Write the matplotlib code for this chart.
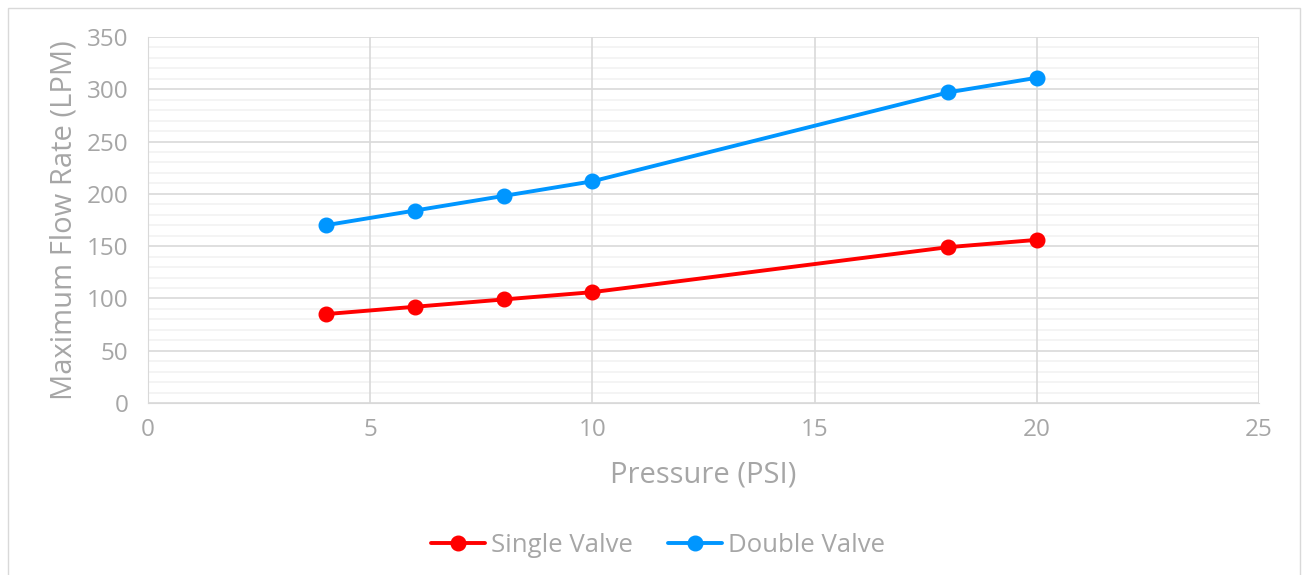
import numpy as np
import matplotlib.pyplot as plt
from matplotlib.patches import Rectangle

plt.rcParams['font.family'] = ['Open Sans', 'DejaVu Sans']

pressure = [4, 6, 8, 10, 18, 20]
single_valve = [85, 92, 99, 106, 149, 156]
double_valve = [170, 184, 198, 212, 297, 311]

txt = "#a6a6a6"

fig = plt.figure(figsize=(13.04, 5.75), dpi=100)
fig.patches.append(Rectangle((8/1304, -0.05), 1292/1304, 1.05 - 8/575, transform=fig.transFigure,
                             fill=False, edgecolor="#d9d9d9", linewidth=1))
ax = fig.add_axes([148/1304, 1 - 403/575, (1259 - 148)/1304, (403 - 37)/575])

ax.plot(pressure, single_valve, color="#ff0000", lw=2.8, marker="o", ms=10.5, label="Single Valve",
        solid_capstyle="round", zorder=3)
ax.plot(pressure, double_valve, color="#0096ff", lw=2.8, marker="o", ms=10.5, label="Double Valve",
        solid_capstyle="round", zorder=3)

ax.set_xlim(0, 25)
ax.set_ylim(0, 350)
ax.set_xticks(range(0, 26, 5))
ax.set_yticks(range(0, 351, 50))
# minor horizontal grid under the major grid
ax.hlines([v for v in range(10, 350, 10) if v % 50], 0, 25, color="#f2f2f2", lw=1.2, zorder=0.3)
ax.grid(which="major", color="#d9d9d9", lw=1.2)
ax.set_axisbelow(True)
for s in ["top", "right"]:
    ax.spines[s].set_visible(False)
ax.spines["left"].set_color("#d9d9d9")
ax.spines["bottom"].set_color("#d9d9d9")
ax.tick_params(axis="y", length=0, labelsize=17.5, labelcolor=txt, pad=14)
ax.tick_params(axis="x", length=0, labelsize=17.5, labelcolor=txt, pad=11)

ax.set_xlabel("Pressure (PSI)", fontsize=21, color=txt, labelpad=13)
ax.set_ylabel("Maximum Flow Rate (LPM)", fontsize=21, color=txt, labelpad=6)

fig.legend(loc="center", bbox_to_anchor=(658/1304, 1 - 545/575), ncol=2, frameon=False,
           fontsize=18.5, labelcolor=txt, handlelength=2.1, handletextpad=0.2, columnspacing=1.4)

fig.savefig("out.png", dpi=100)
